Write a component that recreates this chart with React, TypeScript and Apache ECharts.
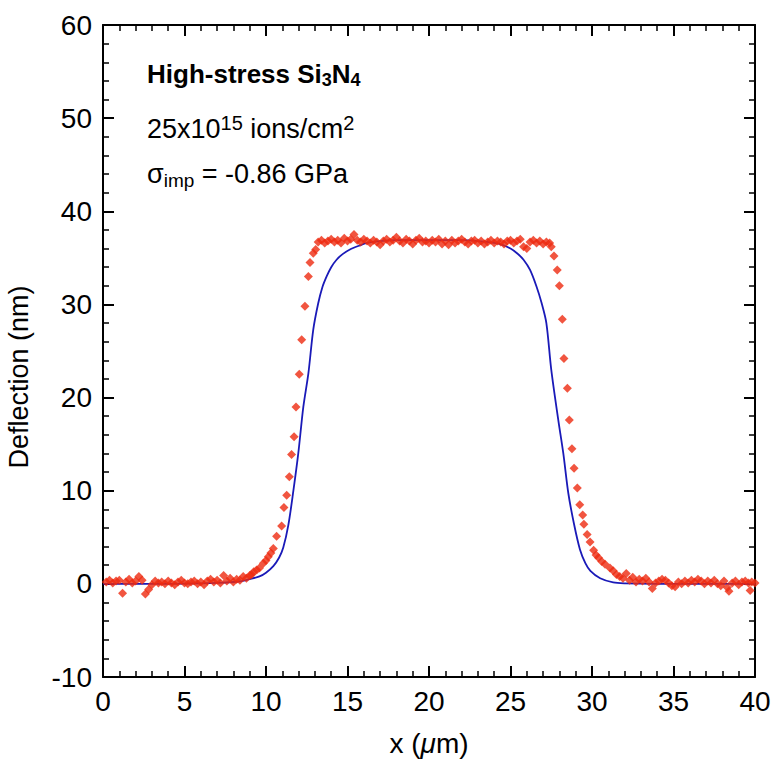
import React, { useEffect, useRef } from "react";
import * as echarts from "echarts";

const FONT = '"Liberation Sans", Arial, Helvetica, sans-serif';

// Axis ranges / ticks
const xRange = [0, 40];
const xStep = 5;
const yRange = [-10, 60];
const yStep = 10;

// Measured deflection (red points), [x (µm), deflection (nm)]
const redLeftBase: [number, number][] = [
  [0.2, 0.2], [0.4, 0.4], [0.6, 0.1], [0.8, 0.3], [1.0, 0.4], [1.2, -1.0], [1.4, 0.2], [1.6, 0.5],
  [1.8, 0.1], [2.0, 0.3], [2.2, 0.8], [2.4, 0.4], [2.6, -1.1], [2.8, -0.6], [3.0, -0.1], [3.2, 0.3],
  [3.4, 0.1], [3.6, 0.2], [3.8, 0.0], [4.0, 0.3], [4.2, 0.1], [4.4, -0.1], [4.6, 0.2], [4.8, 0.4],
  [5.0, 0.1], [5.2, 0.0], [5.4, 0.2], [5.6, 0.3], [5.8, 0.0], [6.0, 0.2], [6.2, -0.1], [6.4, 0.3],
  [6.6, 0.5], [6.8, 0.2], [7.0, 0.4], [7.2, 0.1], [7.4, 0.9], [7.6, 0.3], [7.8, 0.6], [8.0, 0.2],
  [8.2, 0.5], [8.4, 0.4], [8.6, 0.8],
];
const redRise: [number, number][] = [
  [8.8, 0.6], [9.0, 0.9], [9.12, 1.0], [9.25, 1.3], [9.43, 1.5], [9.6, 1.7], [9.84, 2.2], [10.0, 2.5],
  [10.14, 2.9], [10.3, 3.3], [10.45, 3.8], [10.65, 5.1], [10.96, 6.2], [11.1, 8.2], [11.27, 9.5],
  [11.43, 11.5], [11.57, 13.9], [11.72, 15.8], [11.84, 19.0], [12.04, 22.5], [12.19, 26.2],
  [12.39, 29.8], [12.6, 33.0], [12.7, 34.5], [12.9, 35.5], [13.05, 35.9], [13.2, 36.7],
];
const redPlateau: [number, number][] = [
  [13.4, 36.9], [13.6, 36.6], [13.8, 36.8], [14.0, 37.0], [14.2, 36.7], [14.4, 36.9], [14.6, 36.6],
  [14.8, 37.1], [15.0, 36.8], [15.2, 37.0], [15.4, 37.5], [15.6, 36.9], [15.8, 36.7], [16.0, 37.0],
  [16.2, 36.8], [16.4, 36.6], [16.6, 36.9], [16.8, 36.7], [17.0, 36.4], [17.2, 36.8], [17.4, 37.0],
  [17.6, 36.7], [17.8, 36.9], [18.0, 37.2], [18.2, 36.8], [18.4, 36.6], [18.6, 37.0], [18.8, 36.8],
  [19.0, 36.5], [19.2, 36.9], [19.4, 37.1], [19.6, 36.7], [19.8, 36.8], [20.0, 36.6], [20.2, 36.9],
  [20.4, 36.7], [20.6, 37.0], [20.8, 36.5], [21.0, 36.8], [21.2, 36.4], [21.4, 36.9], [21.6, 36.6],
  [21.8, 36.8], [22.0, 37.0], [22.2, 36.7], [22.4, 36.5], [22.6, 36.8], [22.8, 36.9], [23.0, 36.6],
  [23.2, 36.8], [23.4, 36.5], [23.6, 36.7], [23.8, 36.9], [24.0, 36.6], [24.2, 36.8], [24.4, 36.7],
  [24.6, 36.5], [24.8, 36.8], [25.0, 36.9], [25.2, 36.6], [25.4, 36.8], [25.6, 37.0], [25.8, 36.2],
  [26.0, 36.0], [26.2, 36.7], [26.4, 36.9], [26.6, 36.6], [26.8, 36.8], [27.0, 36.5], [27.2, 36.7],
  [27.4, 36.6],
];
const redFall: [number, number][] = [
  [27.5, 36.2], [27.67, 35.2], [27.87, 33.7], [28.0, 32.0], [28.18, 28.4], [28.28, 24.2], [28.49, 21.0],
  [28.61, 17.6], [28.77, 14.5], [28.9, 12.4], [29.1, 10.3], [29.25, 8.5], [29.43, 7.4], [29.5, 6.4],
  [29.7, 5.3], [29.88, 4.5], [30.1, 3.6], [30.25, 3.1], [30.4, 2.8], [30.6, 2.4], [30.8, 2.1],
  [31.1, 1.7], [31.3, 1.4], [31.5, 1.0], [31.7, 0.8], [31.9, 0.6],
];
const redRightBase: [number, number][] = [
  [32.1, 1.1], [32.3, 0.4], [32.5, 0.7], [32.7, 0.2], [32.9, 0.5], [33.1, 0.3], [33.3, 0.6], [33.5, 0.2],
  [33.7, -0.5], [33.9, 0.1], [34.1, 0.3], [34.3, 0.5], [34.5, 0.4], [34.7, 0.1], [34.9, -0.2],
  [35.1, -0.3], [35.3, 0.2], [35.5, 0.0], [35.7, 0.3], [35.9, 0.1], [36.1, 0.4], [36.3, 0.2],
  [36.5, 0.5], [36.7, 0.3], [36.9, 0.0], [37.1, 0.3], [37.3, 0.1], [37.5, 0.4], [37.7, 0.0],
  [37.9, -0.2], [38.1, 0.3], [38.3, -0.4], [38.4, -0.8], [38.6, 0.1], [38.8, 0.3], [39.0, -0.1],
  [39.2, 0.2], [39.4, 0.3], [39.6, 0.1], [39.7, -0.7], [39.8, 0.2], [40.0, 0.1],
];

// Model curve (blue line)
const modelCurve: [number, number][] = [
  [0, 0.0], [2, 0.0], [4, 0.0], [6, 0.05], [7, 0.1], [8, 0.2], [8.5, 0.3], [9.0, 0.5], [9.6, 0.8],
  [10.0, 1.2], [10.45, 1.9], [10.8, 2.8], [11.06, 3.9], [11.37, 6.3], [11.68, 10.0], [11.98, 14.0],
  [12.29, 19.0], [12.6, 22.6], [12.9, 27.3], [13.2, 30.1], [13.45, 31.8], [13.72, 33.0], [14.0, 34.0],
  [14.33, 34.8], [14.7, 35.4], [15.15, 35.9], [15.7, 36.3], [16.2, 36.6], [17, 36.8], [18, 36.9],
  [20, 36.9], [22, 36.9], [23, 36.8], [24, 36.6], [24.5, 36.4], [25.0, 36.0], [25.4, 35.5],
  [25.8, 34.8], [26.2, 33.7], [26.6, 31.9], [26.9, 30.2], [27.2, 28.0], [27.5, 23.0], [27.93, 17.6],
  [28.24, 14.0], [28.55, 9.7], [28.9, 6.4], [29.26, 3.7], [29.6, 2.2], [29.9, 1.4], [30.5, 0.6],
  [31.3, 0.15], [32, 0.05], [34, 0.0], [36, 0.0], [40, 0.0],
];

const annotationTitle = "{b|High-stress Si}{bs|3}{b|N}{bs|4}";
const annotationDose = "{a|25x10}{sup|15}{a| ions/cm}{sup|2}";
const annotationStress = "{a|σ}{sub|imp}{a| = -0.86 GPa}";

export default function App() {
  const ref = useRef<HTMLDivElement>(null);

  useEffect(() => {
    const chart = echarts.init(ref.current!, null, { renderer: "svg" });
    const measured = [...redLeftBase, ...redRise, ...redPlateau, ...redFall, ...redRightBase];

    const lineStyle = { color: "#000", width: 2 };
    const xCommon = {
      type: "value" as const,
      min: xRange[0],
      max: xRange[1],
      interval: xStep,
      axisLine: { show: true, onZero: false, lineStyle },
      axisTick: { show: true, inside: true, length: 11, lineStyle },
      minorTick: { show: true, splitNumber: 5, length: 6, lineStyle: { color: "#000", width: 1.5 } },
      splitLine: { show: false },
      minorSplitLine: { show: false },
    };
    const yCommon = {
      type: "value" as const,
      min: yRange[0],
      max: yRange[1],
      interval: yStep,
      axisLine: { show: true, onZero: false, lineStyle },
      axisTick: { show: true, inside: true, length: 11, lineStyle },
      minorTick: { show: true, splitNumber: 5, length: 6, lineStyle: { color: "#000", width: 1.5 } },
      splitLine: { show: false },
      minorSplitLine: { show: false },
    };
    const txt = { fontFamily: FONT, fill: "#000" };

    chart.setOption({
      animation: false,
      backgroundColor: "#fff",
      grid: { left: 103, top: 25, width: 652, height: 652, containLabel: false },
      xAxis: [
        {
          ...xCommon,
          position: "bottom",
          axisLabel: { fontSize: 28, color: "#000", fontFamily: FONT, margin: 10 },
          name: "{n|x (}{m|μ}{n|m)}",
          nameLocation: "middle",
          nameGap: 52,
          nameTextStyle: {
            rich: {
              n: { fontSize: 28, color: "#000", fontFamily: FONT },
              m: { fontSize: 28, color: "#000", fontFamily: FONT, fontStyle: "italic" },
            },
          },
        },
        { ...xCommon, position: "top", axisLabel: { show: false } },
      ],
      yAxis: [
        {
          ...yCommon,
          position: "left",
          axisLabel: { fontSize: 28, color: "#000", fontFamily: FONT, margin: 11 },
        },
        { ...yCommon, position: "right", axisLabel: { show: false } },
      ],
      graphic: [
        {
          type: "text",
          x: 19,
          y: 377,
          rotation: Math.PI / 2,
          style: {
            text: "Deflection (nm)",
            fontSize: 27,
            fontFamily: FONT,
            fill: "#000",
            align: "center",
            verticalAlign: "middle",
          },
        },
        {
          type: "text",
          x: 147,
          y: 74,
          style: {
            text: annotationTitle,
            verticalAlign: "middle",
            rich: {
              b: { ...txt, fontSize: 26, fontWeight: "bold" },
              bs: { ...txt, fontSize: 18, fontWeight: "bold", padding: [12, 0, 0, 0] },
            },
          },
        },
        {
          type: "text",
          x: 147,
          y: 129,
          style: {
            text: annotationDose,
            verticalAlign: "middle",
            rich: {
              a: { ...txt, fontSize: 27 },
              sup: { ...txt, fontSize: 20, padding: [0, 0, 13, 0] },
            },
          },
        },
        {
          type: "text",
          x: 147,
          y: 174,
          style: {
            text: annotationStress,
            verticalAlign: "middle",
            rich: {
              a: { ...txt, fontSize: 27 },
              sub: { ...txt, fontSize: 19, padding: [13, 0, 0, 0] },
            },
          },
        },
      ],
      series: [
        {
          type: "line",
          name: "Model",
          xAxisIndex: 0,
          yAxisIndex: 0,
          data: modelCurve,
          smooth: 0.3,
          showSymbol: false,
          symbol: "none",
          lineStyle: { color: "#1a1ab8", width: 1.8 },
          z: 2,
        },
        {
          type: "scatter",
          name: "Measured",
          xAxisIndex: 0,
          yAxisIndex: 0,
          data: measured,
          symbol: "diamond",
          symbolSize: 9,
          itemStyle: { color: "#ee2a10" },
          z: 3,
        },
      ],
    });
    return () => chart.dispose();
  }, []);

  return (
    <div
      ref={ref}
      style={{ position: "absolute", left: 0, top: 0, width: 777, height: 770, background: "#fff" }}
    />
  );
}
